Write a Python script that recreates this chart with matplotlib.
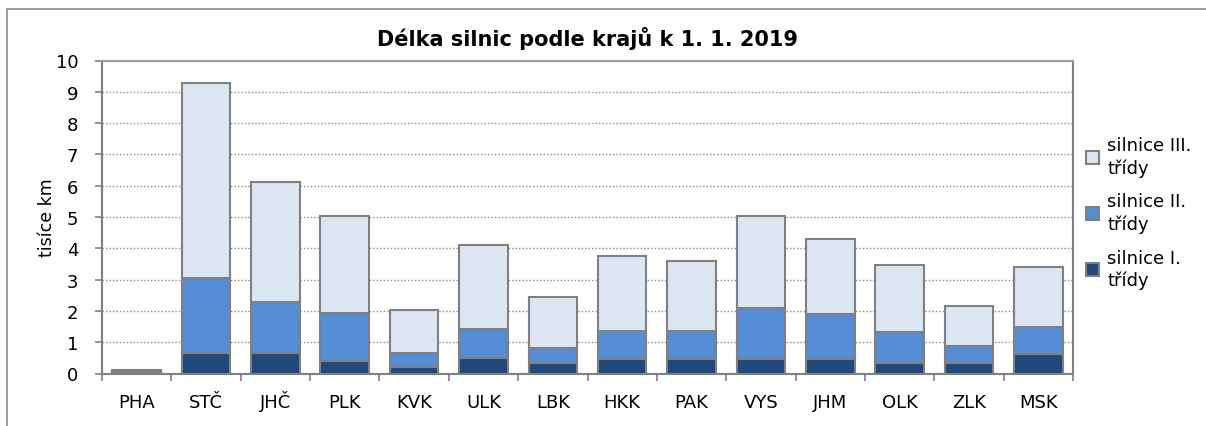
import numpy as np
import matplotlib
matplotlib.use('Agg')
import matplotlib.pyplot as plt
from matplotlib.patches import Rectangle

# kraje
regions = ['PHA', 'STČ', 'JHČ', 'PLK', 'KVK', 'ULK', 'LBK', 'HKK', 'PAK', 'VYS', 'JHM', 'OLK', 'ZLK', 'MSK']

# délka silnic v tisících km
road_1 = [0.02, 0.65, 0.64, 0.39, 0.22, 0.50, 0.34, 0.45, 0.45, 0.45, 0.45, 0.33, 0.33, 0.63]
road_2 = [0.03, 2.41, 1.63, 1.53, 0.43, 0.92, 0.48, 0.91, 0.91, 1.63, 1.46, 0.99, 0.56, 0.85]
road_3 = [0.07, 6.22, 3.84, 3.10, 1.38, 2.70, 1.63, 2.40, 2.22, 2.94, 2.40, 2.14, 1.26, 1.92]

labels = ['silnice I.\ntřídy', 'silnice II.\ntřídy', 'silnice III.\ntřídy']
colors = ['#1F487C', '#558ED5', '#DCE6F2']

plt.rcParams['font.family'] = ['DejaVu Sans']

fig = plt.figure(figsize=(12.06, 4.27), dpi=100)
ax = fig.add_axes([102 / 1206, 1 - 374.5 / 427, (1073 - 102) / 1206, (374.5 - 61.5) / 427])

# rámeček kolem celého grafu
fig.patches.append(Rectangle((7 / 1206, -0.05), 1.1, 1 - 10 / 427 + 0.05, transform=fig.transFigure,
                             fill=False, edgecolor='#8c8c8c', linewidth=1.2))

x = np.arange(len(regions))
bottom = np.zeros(len(regions))
for vals, lab, col in zip([road_1, road_2, road_3], labels, colors):
    ax.bar(x, vals, 0.7, bottom=bottom, color=col, edgecolor='#808080', linewidth=1.5, label=lab, zorder=3)
    bottom += np.array(vals)

ax.set_xlim(-0.5, len(regions) - 0.5)
ax.set_ylim(0, 10)
ax.set_yticks(range(0, 11))
ax.set_xticks(x)
ax.set_xticklabels(regions, va='baseline')
ax.set_xticks(np.arange(-0.5, len(regions), 1), minor=True)
ax.tick_params(axis='x', which='major', length=0, pad=24, labelsize=13)
ax.tick_params(axis='x', which='minor', length=5, color='#808080', width=1.2)
ax.tick_params(axis='y', length=5, color='#808080', width=1.2, labelsize=13, pad=12)

ax.grid(axis='y', linestyle=(0, (1, 1.5)), color='#8c8c8c', linewidth=1, zorder=0)
for s in ['left', 'right', 'bottom']:
    ax.spines[s].set_color('#808080')
    ax.spines[s].set_linewidth(1.5)
ax.spines['top'].set_color('#9a9a9a')
ax.spines['top'].set_linewidth(1.5)

ax.set_ylabel('tisíce km', fontsize=12.5, labelpad=0)
ax.set_title('Délka silnic podle krajů k 1. 1. 2019', fontsize=15, fontweight='bold', pad=11)

h, l = ax.get_legend_handles_labels()
leg = ax.legend(h[::-1], l[::-1], loc='upper left', bbox_to_anchor=(0.997, 0.81), frameon=False,
                fontsize=13, handlelength=0.7, handleheight=0.7, handletextpad=0.45, labelspacing=0.85)
for t in leg.get_texts():
    t.set_linespacing(1.3)

plt.savefig('out.png', dpi=100)
